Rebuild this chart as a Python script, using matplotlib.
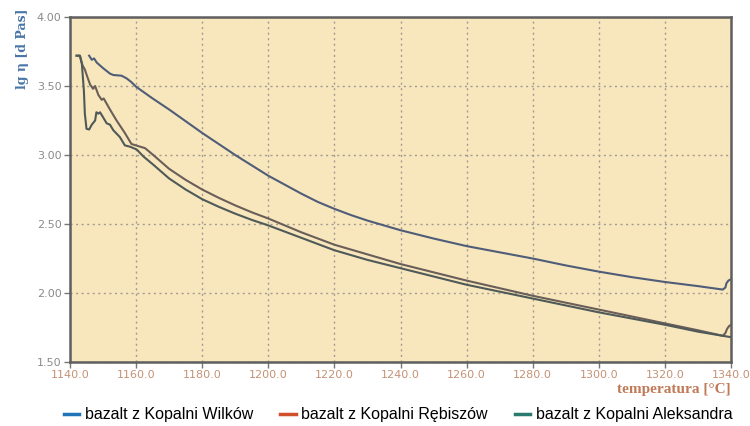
import matplotlib
matplotlib.use("Agg")
import matplotlib.pyplot as plt
from matplotlib.lines import Line2D

t_wilkow = [1145.8, 1146.6, 1147.3, 1148.1, 1150.0, 1152.1, 1153.1, 1155.6, 1157.1,
            1158.5, 1160, 1165, 1170, 1175, 1180, 1185, 1190, 1195, 1200, 1205, 1210,
            1215, 1220, 1225, 1230, 1235, 1240, 1250, 1260, 1270, 1280, 1290, 1300,
            1310, 1320, 1330, 1337.5, 1338.3, 1338.6, 1339.2, 1340.0]
lg_wilkow = [3.72, 3.69, 3.70, 3.67, 3.63, 3.59, 3.58, 3.575, 3.556,
             3.53, 3.495, 3.41, 3.33, 3.245, 3.16, 3.08, 3.00, 2.925, 2.85, 2.785, 2.72,
             2.66, 2.61, 2.565, 2.525, 2.49, 2.455, 2.395, 2.34, 2.295, 2.25, 2.20, 2.155,
             2.115, 2.08, 2.05, 2.025, 2.04, 2.07, 2.09, 2.10]

t_rebiszow = [1142.0, 1143.0, 1143.8, 1144.5, 1145.2, 1146.1, 1147.0, 1147.6, 1148.6,
              1149.6, 1150.2, 1152.1, 1154.1, 1156.6, 1158.6, 1160.6, 1162.7, 1165.2,
              1170, 1175, 1180, 1185, 1190, 1195, 1200, 1205, 1210, 1215, 1220, 1230,
              1240, 1250, 1260, 1270, 1280, 1290, 1300, 1310, 1320, 1330, 1337.5,
              1338.3, 1338.8, 1339.4, 1340.0]
lg_rebiszow = [3.72, 3.72, 3.65, 3.62, 3.57, 3.51, 3.48, 3.50, 3.435,
               3.40, 3.41, 3.33, 3.25, 3.16, 3.08, 3.065, 3.05, 3.00,
               2.90, 2.82, 2.75, 2.69, 2.635, 2.585, 2.54, 2.49, 2.44, 2.395, 2.35, 2.28,
               2.21, 2.15, 2.09, 2.035, 1.98, 1.93, 1.88, 1.83, 1.78, 1.73, 1.69,
               1.71, 1.74, 1.76, 1.77]

t_aleksandra = [1142.0, 1143.0, 1143.6, 1144.2, 1144.5, 1145.0, 1145.8, 1146.6, 1147.6,
                1148.0, 1148.6, 1149.1, 1150.1, 1151.1, 1152.1, 1153.1, 1155.1, 1156.6,
                1158.2, 1160.2, 1162.2, 1165.2, 1170, 1175, 1180, 1185, 1190, 1195, 1200,
                1210, 1220, 1230, 1240, 1250, 1260, 1270, 1280, 1290, 1300, 1310, 1320,
                1330, 1340]
lg_aleksandra = [3.72, 3.72, 3.66, 3.47, 3.30, 3.19, 3.185, 3.22, 3.25,
                 3.31, 3.30, 3.31, 3.27, 3.23, 3.22, 3.18, 3.13, 3.07,
                 3.06, 3.04, 2.99, 2.93, 2.83, 2.75, 2.68, 2.625, 2.575, 2.53, 2.49,
                 2.40, 2.31, 2.24, 2.18, 2.12, 2.06, 2.01, 1.96, 1.91, 1.86, 1.815, 1.77,
                 1.72, 1.68]

x_ticks = [1140, 1160, 1180, 1200, 1220, 1240, 1260, 1280, 1300, 1320, 1340]
y_ticks = [1.50, 2.00, 2.50, 3.00, 3.50, 4.00]
nazwy = ["bazalt z Kopalni Wilków", "bazalt z Kopalni Rębiszów", "bazalt z Kopalni Aleksandra"]

fig = plt.figure(figsize=(7.5, 4.26), dpi=100)
ax = fig.add_axes([0.0933, 0.1502, 0.8814, 0.8098])
ax.set_facecolor("#f8e7bd")

# linie na wykresie sa ciemnoszare
ax.plot(t_wilkow, lg_wilkow, color="#4f5d78", lw=1.5, solid_joinstyle="round")
ax.plot(t_rebiszow, lg_rebiszow, color="#6a5e58", lw=1.5, solid_joinstyle="round")
ax.plot(t_aleksandra, lg_aleksandra, color="#4f5a58", lw=1.5, solid_joinstyle="round")

ax.set_xlim(1140, 1340)
ax.set_ylim(1.5, 4.0)
ax.set_xticks(x_ticks)
ax.set_xticklabels(["%.1f" % v for v in x_ticks], color="#c49276", fontsize=8)
ax.set_yticks(y_ticks)
ax.set_yticklabels(["%.2f" % v for v in y_ticks], color="#8a8a8a", fontsize=8)
ax.tick_params(length=4, width=1, color="#777777", pad=2)

ax.grid(True, linestyle=(0, (1.5, 2.5)), color="#a59a90", lw=1)
for s in ax.spines.values():
    s.set_color("#5f5f5f")
    s.set_linewidth(1.8)

fig.text(0.03, 0.885, "lg η [d Pas]", rotation=90, ha="center", va="center",
         color="#4a76a8", fontsize=9, family="DejaVu Serif", fontweight="bold")
ax.text(1.0, -0.06, "temperatura [°C]", transform=ax.transAxes, ha="right", va="top",
        color="#c07a58", fontsize=11, family="Liberation Serif", fontweight="bold")

uchwyty = [Line2D([], [], color="#1f74b8", lw=2.5),
           Line2D([], [], color="#d0502c", lw=2.5),
           Line2D([], [], color="#2b7a70", lw=2.5)]
fig.legend(uchwyty, nazwy, loc="center", bbox_to_anchor=(0.531, 0.026), ncol=3,
           frameon=False, handlelength=0.95, handletextpad=0.35, columnspacing=1.7,
           prop={"family": "Liberation Sans", "size": 11.5})

fig.savefig("out.png", dpi=100)
